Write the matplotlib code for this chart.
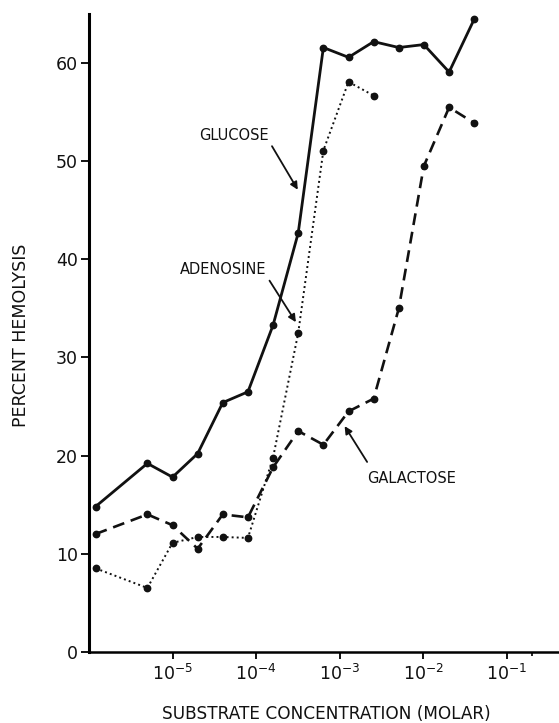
"""
Percent hemolysis vs substrate concentration (glucose, adenosine, galactose).
"""
import matplotlib
matplotlib.use("Agg")
import matplotlib.pyplot as plt
from matplotlib.ticker import NullFormatter

plt.rcParams["font.family"] = ["DejaVu Sans"]
plt.rcParams["mathtext.default"] = "regular"

# ---------- data ----------
conc = [1.2e-6, 5e-6, 1e-5, 2e-5, 4e-5, 8e-5, 1.6e-4, 3.2e-4,
        6.4e-4, 1.28e-3, 2.56e-3, 5.12e-3, 1.02e-2, 2.05e-2, 4.1e-2]

glucose = [14.8, 19.2, 17.8, 20.2, 25.4, 26.5, 33.3, 42.7,
           61.6, 60.6, 62.2, 61.6, 61.9, 59.1, 64.5]

adenosine_conc = conc[:11]
adenosine = [8.5, 6.5, 11.1, 11.7, 11.7, 11.6, 19.8, 32.5,
             51.1, 58.1, 56.7]

galactose = [12.0, 14.0, 12.9, 10.5, 14.0, 13.7, 18.8, 22.5,
             21.1, 24.5, 25.8, 35.0, 49.5, 55.5, 53.9]

y_ticks = [0, 10, 20, 30, 40, 50, 60]
x_ticks = [1e-5, 1e-4, 1e-3, 1e-2, 1e-1]

INK = "#111111"

fig = plt.figure(figsize=(5.59, 7.23), dpi=100)
ax = fig.add_axes([0.1592, 0.0986, 0.8408, 0.8818])

ax.plot(conc, glucose, color=INK, lw=2.0, marker="o", ms=4.6,
        solid_joinstyle="round")
ax.plot(adenosine_conc, adenosine, color=INK, lw=1.4,
        linestyle=(0, (1, 1.6)), marker="o", ms=4.6)
ax.plot(conc, galactose, color=INK, lw=1.9,
        linestyle=(0, (4.5, 2.6)), marker="o", ms=4.6)

ax.set_xscale("log")
ax.set_xlim(1e-6, 0.424)
ax.set_ylim(0, 65)

ax.set_yticks(y_ticks)
ax.set_xticks(x_ticks)
ax.set_xticks([0.2], minor=True)
ax.xaxis.set_minor_formatter(NullFormatter())

for side in ("top", "right"):
    ax.spines[side].set_visible(False)
ax.spines["left"].set_linewidth(2.2)
ax.spines["bottom"].set_linewidth(1.8)

ax.tick_params(axis="y", direction="out", length=6, width=1.4,
               labelsize=12.5, pad=2, colors=INK)
ax.tick_params(axis="x", which="major", direction="out", length=5,
               width=1.4, labelsize=12.5, pad=4, colors=INK)
ax.tick_params(axis="x", which="minor", direction="out", length=3,
               width=1.2)

ax.set_xlabel("SUBSTRATE CONCENTRATION (MOLAR)", fontsize=12.2, color=INK)
ax.set_ylabel("PERCENT HEMOLYSIS", fontsize=12.5, color=INK)
ax.xaxis.set_label_coords(0.504, -0.084)
ax.yaxis.set_label_coords(-0.125, 0.496)

arrow = dict(arrowstyle="-|>", color=INK, lw=1.3, mutation_scale=11,
             shrinkA=1, shrinkB=0)

ax.annotate("GLUCOSE", xy=(3.16e-4, 47.1), xytext=(5.4e-5, 52.6),
            fontsize=10.5, ha="center", va="center", color=INK,
            arrowprops=dict(arrow, relpos=(1.0, 0.2)))
ax.annotate("ADENOSINE", xy=(3.0e-4, 33.6), xytext=(4.0e-5, 39.0),
            fontsize=10.5, ha="center", va="center", color=INK,
            arrowprops=dict(arrow, relpos=(1.0, 0.1)))
ax.annotate("GALACTOSE", xy=(1.15e-3, 23.0), xytext=(7.3e-3, 17.7),
            fontsize=10.5, ha="center", va="center", color=INK,
            arrowprops=dict(arrow, relpos=(0.06, 1.0), shrinkA=5))

fig.savefig("out.png", dpi=100, facecolor="white")
